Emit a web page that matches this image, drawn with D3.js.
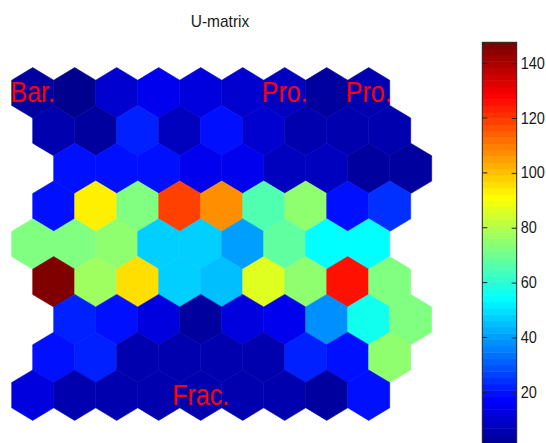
<!DOCTYPE html>
<html>
<head>
<meta charset="utf-8">
<script src="https://cdn.jsdelivr.net/npm/d3@7"></script>
<style>
  html, body { margin: 0; padding: 0; background: #fff; }
  svg { display: block; font-family: "Liberation Sans", Arial, sans-serif; }
</style>
</head>
<body>
<svg id="chart" width="546" height="443"></svg>
<script>
// U-matrix cell values, one array per hexagon row (top to bottom).
const row1 = [3.5, 1.2, 10.4, 15.0, 12.7, 10.4, 9.0, 3.5, 5.8];
const row2 = [5.8, 3.5, 23.0, 8.1, 19.6, 10.4, 5.8, 5.8, 5.8];
const row3 = [20.5, 20.5, 20.5, 15.0, 16.0, 9.0, 8.1, 3.5, 3.5];
const row4 = [20.5, 93.4, 71.5, 118.8, 107.2, 65.7, 74.0, 20.5, 24.2];
const row5 = [71.5, 71.5, 74.0, 47.3, 47.3, 40.4, 68.0, 54.2, 54.2];
const row6 = [146.4, 77.3, 95.7, 47.3, 45.0, 86.5, 74.0, 125.6, 71.5];
const row7 = [23.0, 20.5, 12.7, 3.5, 12.7, 16.0, 38.0, 56.5, 71.5];
const row8 = [20.5, 23.0, 5.8, 5.8, 5.8, 5.8, 21.9, 19.6, 74.0];
const row9 = [12.7, 5.8, 5.8, 5.8, 5.8, 5.8, 5.8, 3.5, 19.6];
const rows = [row1, row2, row3, row4, row5, row6, row7, row8, row9];

// Horizontal shift of each row, in hexagon widths.
const rowShift = [0, 0.5, 1, 0.5, 0, 0.5, 1, 0.5, 0];

// Text labels placed on units: [row, column, text].
const unitLabels = [
  [0, 0, "Bar."],
  [0, 6, "Pro."],
  [0, 8, "Pro."],
  [8, 4, "Frac."]
];

const colorTicks = [20, 40, 60, 80, 100, 120, 140];
const colorMin = 0;
const colorMax = 147.6;
const title = "U-matrix";

// MATLAB-style jet colormap with n entries.
function jet(n) {
  const m = Math.ceil(n / 4);
  const u = [];
  for (let i = 1; i <= m; i++) u.push(i / m);
  for (let i = 1; i < m; i++) u.push(1);
  for (let i = m; i >= 1; i--) u.push(i / m);
  const g0 = Math.ceil(m / 2) - (n % 4 === 1 ? 1 : 0);
  const map = d3.range(n).map(() => [0, 0, 0]);
  u.forEach((v, j) => {
    const g = g0 + j + 1, r = g + m, b = g - m;
    if (r >= 1 && r <= n) map[r - 1][0] = v;
    if (g >= 1 && g <= n) map[g - 1][1] = v;
    if (b >= 1 && b <= n) map[b - 1][2] = v;
  });
  return map.map(c => d3.rgb(c[0] * 255, c[1] * 255, c[2] * 255).formatHex());
}
const palette = jet(64);
const color = d3.scaleQuantize().domain([colorMin, colorMax]).range(palette);

const svg = d3.select("#chart");

// Hexagon lattice: x in unit widths, y in row steps (1 row = 1.5 * radius).
const x = d3.scaleLinear().domain([0, 1]).range([32.7, 74.7]);
const y = d3.scaleLinear().domain([0, 8]).range([92.8, 395.2]);

const hexPoints = (cx, cy) => {
  const pts = [
    [0, -2 / 3], [0.5, -1 / 3], [0.5, 1 / 3],
    [0, 2 / 3], [-0.5, 1 / 3], [-0.5, -1 / 3]
  ];
  return pts.map(([dx, dy]) => [x(cx + dx), y(cy + dy)].join(",")).join(" ");
};

const cells = [];
rows.forEach((vals, r) => vals.forEach((v, c) => cells.push({ r, c, v })));

svg.append("g")
  .selectAll("polygon")
  .data(cells)
  .join("polygon")
  .attr("points", d => hexPoints(d.c + rowShift[d.r], d.r))
  .attr("fill", d => color(d.v))
  .attr("stroke", d => color(d.v))
  .attr("stroke-width", 0.6);

// Unit labels, slightly tall glyphs like the screen font of the plot
svg.append("g")
  .selectAll("text")
  .data(unitLabels)
  .join("text")
  .attr("transform", d => `translate(${x(d[1] + rowShift[d[0]])},${y(d[0])}) scale(1,1.15)`)
  .attr("text-anchor", "middle")
  .attr("dominant-baseline", "central")
  .attr("fill", "#ff0000")
  .attr("font-size", 25)
  .text(d => d[2]);

svg.append("text")
  .attr("transform", "translate(220,27) scale(1,1.08)")
  .attr("text-anchor", "middle")
  .attr("font-size", 15.5)
  .attr("fill", "#1a1a1a")
  .text(title);

// Colorbar
const cbX0 = 482.3, cbX1 = 516.7;
const cy = d3.scaleLinear().domain([colorMin, colorMax]).range([447.2, 42.3]);
const step = (colorMax - colorMin) / palette.length;
const cb = svg.append("g");
cb.selectAll("rect")
  .data(palette)
  .join("rect")
  .attr("x", cbX0)
  .attr("width", cbX1 - cbX0)
  .attr("y", (d, i) => cy(colorMin + (i + 1) * step))
  .attr("height", (d, i) => cy(colorMin + i * step) - cy(colorMin + (i + 1) * step) + 0.5)
  .attr("fill", d => d);

cb.append("rect")
  .attr("x", cbX0)
  .attr("y", cy(colorMax))
  .attr("width", cbX1 - cbX0)
  .attr("height", cy(colorMin) - cy(colorMax))
  .attr("fill", "none")
  .attr("stroke", "#222")
  .attr("stroke-width", 1);

const axisR = d3.axisRight(cy).tickValues(colorTicks).tickSizeInner(-5).tickSizeOuter(0).tickPadding(4);
const gAxis = cb.append("g").attr("transform", `translate(${cbX1},0)`).call(axisR);
gAxis.select(".domain").remove();
gAxis.selectAll("line").attr("stroke", "#222");
gAxis.selectAll(".tick text")
  .attr("font-size", 14.5)
  .attr("fill", "#1a1a1a")
  .attr("font-family", "\"Liberation Sans\", Arial, sans-serif")
  .attr("transform", "scale(1,1.1)")
  .attr("y", function () { return 0; });

cb.append("g")
  .selectAll("line")
  .data(colorTicks)
  .join("line")
  .attr("x1", cbX0).attr("x2", cbX0 + 5)
  .attr("y1", d => cy(d)).attr("y2", d => cy(d))
  .attr("stroke", "#222");
</script>
</body>
</html>
